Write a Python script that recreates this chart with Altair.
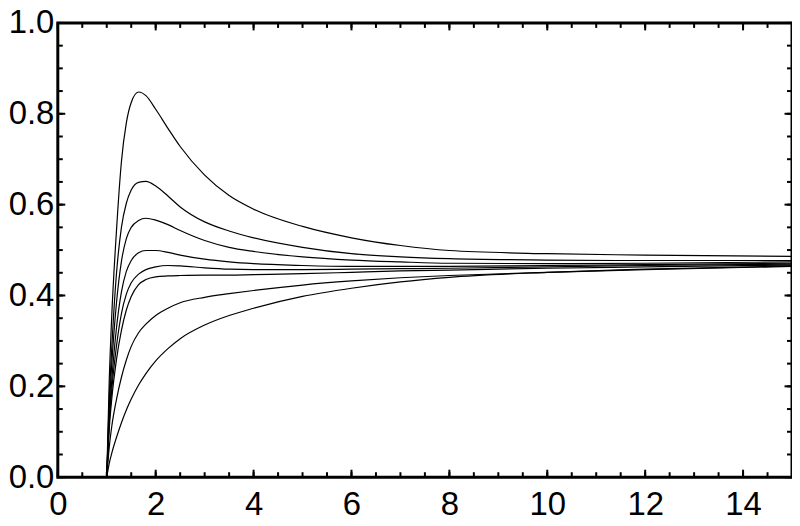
import altair as alt
import pandas as pd

# sample abscissae
x_pts = [1, 1.05, 1.1, 1.2, 1.3, 1.4, 1.5, 1.65, 1.8, 2, 2.25, 2.5, 3, 3.5, 4, 5, 6, 7, 8, 10, 12, 15]

c1 = [0, 0.21, 0.35, 0.545, 0.695, 0.78, 0.825, 0.848, 0.840, 0.810, 0.768, 0.728, 0.665, 0.62, 0.59, 0.552, 0.527, 0.51, 0.499, 0.492, 0.489, 0.486]
c2 = [0, 0.17, 0.28, 0.45, 0.55, 0.603, 0.632, 0.649, 0.651, 0.641, 0.619, 0.595, 0.562, 0.542, 0.527, 0.506, 0.492, 0.485, 0.481, 0.478, 0.477, 0.477]
c3 = [0, 0.15, 0.245, 0.385, 0.475, 0.525, 0.550, 0.565, 0.570, 0.566, 0.556, 0.543, 0.521, 0.506, 0.497, 0.485, 0.478, 0.474, 0.471, 0.470, 0.471, 0.474]
c4 = [0, 0.13, 0.21, 0.33, 0.408, 0.453, 0.477, 0.494, 0.499, 0.499, 0.495, 0.489, 0.480, 0.474, 0.470, 0.466, 0.464, 0.464, 0.464, 0.466, 0.468, 0.471]
c5 = [0, 0.12, 0.19, 0.29, 0.36, 0.403, 0.428, 0.447, 0.457, 0.463, 0.466, 0.465, 0.461, 0.458, 0.457, 0.457, 0.458, 0.459, 0.460, 0.463, 0.466, 0.469]
c6 = [0, 0.105, 0.17, 0.26, 0.323, 0.368, 0.398, 0.424, 0.435, 0.441, 0.443, 0.444, 0.445, 0.445, 0.446, 0.448, 0.451, 0.454, 0.456, 0.460, 0.463, 0.467]
c7 = [0, 0.065, 0.11, 0.172, 0.22, 0.258, 0.288, 0.318, 0.337, 0.356, 0.372, 0.384, 0.396, 0.404, 0.411, 0.423, 0.432, 0.439, 0.444, 0.451, 0.457, 0.464]
c8 = [0, 0.03, 0.052, 0.088, 0.12, 0.148, 0.172, 0.203, 0.228, 0.256, 0.283, 0.305, 0.335, 0.356, 0.372, 0.398, 0.416, 0.430, 0.440, 0.451, 0.458, 0.465]

curves = [c1, c2, c3, c4, c5, c6, c7, c8]

x_labels = [0, 2, 4, 6, 8, 10, 12, 14]
y_labels = [0.0, 0.2, 0.4, 0.6, 0.8, 1.0]
x_minor = [i * 0.5 for i in range(0, 31)]
y_minor = [round(i * 0.05, 2) for i in range(0, 21)]

W, H = 737, 456
MAJ, MIN = 7.5, 5

rows = []
for k, c in enumerate(curves):
    for xv, yv in zip(x_pts, c):
        rows.append({"x": xv, "y": yv, "curve": f"c{k+1}"})
df = pd.DataFrame(rows)

xs = alt.Scale(domain=[0, 15], nice=False, zero=False)
ys = alt.Scale(domain=[0, 1], nice=False)

FONT = "Liberation Sans"

x_axis = alt.Axis(values=x_labels, format="d", domain=False, ticks=False, grid=False,
                  labelFont=FONT, labelFontSize=33, labelColor="black",
                  labelPadding=11, labelFlush=False, labelOverlap=False, title=None)
y_axis = alt.Axis(values=y_labels, format=".1f", domain=False, ticks=False, grid=False,
                  labelFont=FONT, labelFontSize=33, labelColor="black",
                  labelPadding=4, labelFlush=False, labelOverlap=False, title=None)

lines = alt.Chart(df).mark_line(color="black", strokeWidth=1.2, interpolate="monotone").encode(
    x=alt.X("x:Q", scale=xs, axis=x_axis),
    y=alt.Y("y:Q", scale=ys, axis=y_axis),
    detail="curve:N",
)


def xticks(vals, bottom, length):
    d = pd.DataFrame({"v": vals})
    if bottom:
        y, y2 = H, H - length
    else:
        y, y2 = 0, length
    return alt.Chart(d).mark_rule(color="black", strokeWidth=2).encode(
        x=alt.X("v:Q", scale=xs, axis=None), y=alt.value(y), y2=alt.value(y2))


def yticks(vals, left, length):
    d = pd.DataFrame({"v": vals})
    if left:
        x, x2 = 0, length
    else:
        x, x2 = W, W - length
    return alt.Chart(d).mark_rule(color="black", strokeWidth=2).encode(
        y=alt.Y("v:Q", scale=ys, axis=None), x=alt.value(x), x2=alt.value(x2))


layers = [
    lines,
    xticks(x_minor, True, MIN), xticks(x_labels, True, MAJ),
    xticks(x_minor, False, MIN), xticks(x_labels, False, MAJ),
    yticks(y_minor, True, MIN), yticks(y_labels, True, MAJ),
    yticks(y_minor, False, MIN), yticks(y_labels, False, MAJ),
]

chart = alt.layer(*layers).resolve_axis(x="independent", y="independent").properties(
    width=W, height=H,
    background="white",
    autosize=alt.AutoSizeParams(type="none"),
    padding={"left": 50, "top": 14, "right": 0, "bottom": 48},
).configure_view(stroke="black", strokeWidth=3)

chart.save("out.html", embed_options={"renderer": "svg", "actions": False})
